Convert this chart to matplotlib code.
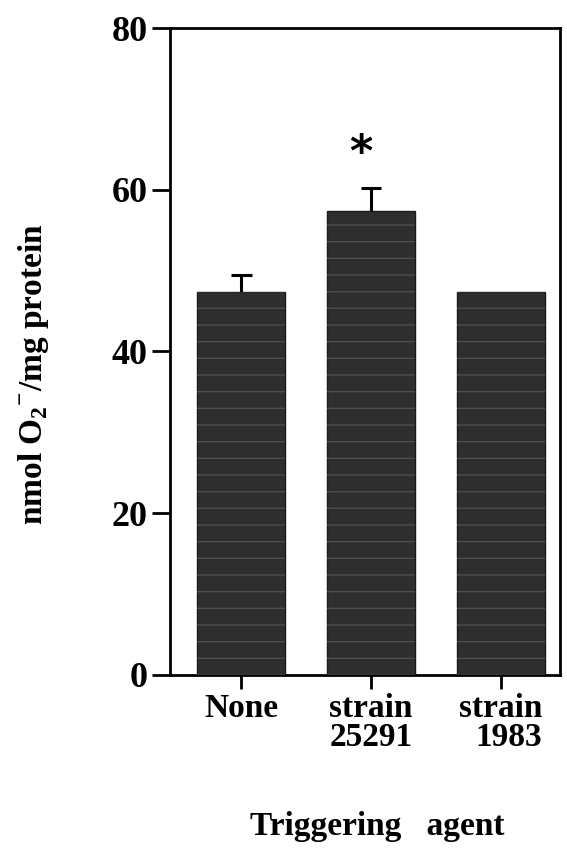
import matplotlib.pyplot as plt
import numpy as np

# superoxide release by triggering agent
agents = ["None", "strain\n25291", "strain\n1983"]
means = [47.3, 57.4, 47.4]
sem_up = [2.1, 2.8, 0.0]
significant = [False, True, False]

plt.rcParams['font.family'] = ['Liberation Serif', 'DejaVu Serif']
plt.rcParams['font.weight'] = 'bold'
plt.rcParams['axes.labelweight'] = 'bold'
plt.rcParams['mathtext.fontset'] = 'custom'
plt.rcParams['mathtext.rm'] = 'Liberation Serif:bold'
plt.rcParams['mathtext.bf'] = 'Liberation Serif:bold'

fig = plt.figure(figsize=(5.67, 8.5), dpi=100)
ax = fig.add_axes([0.300, 0.206, 0.688, 0.761])

x = np.arange(len(agents))
bar_w = 0.68
ax.bar(x, means, width=bar_w, color='#2e2e2e', edgecolor='#1a1a1a', linewidth=1, zorder=2)
# faint horizontal streaks across the fill
ax.bar(x, means, width=bar_w, fill=False, hatch='-', edgecolor='#4e4e4e', linewidth=0, zorder=3)

# upper error bars only (T shape)
cap = 0.08
for xi, m, s in zip(x, means, sem_up):
    if s > 0:
        ax.vlines(xi, m, m + s, color='black', linewidth=2.2, zorder=1)
        ax.hlines(m + s, xi - cap, xi + cap, color='black', linewidth=2.2, zorder=1)

for xi, m, s, sig in zip(x, means, sem_up, significant):
    if sig:
        ax.text(xi - 0.08, m + s + 1.6, "*", ha='center', va='bottom', fontsize=32,
                family='DejaVu Sans', fontweight='bold')

ax.set_xlim(-0.55, 2.46)
ax.set_ylim(0, 80)
ax.set_yticks([0, 20, 40, 60, 80])
ax.set_xticks(x)
ax.set_xticklabels(agents, fontsize=24, linespacing=0.9)
ax.get_xticklabels()[2].set_multialignment('right')
ax.tick_params(axis='y', labelsize=26, length=13, width=2, direction='out', pad=3)
ax.tick_params(axis='x', length=10, width=2, direction='out', pad=3)

for sp in ax.spines.values():
    sp.set_linewidth(2)

ax.set_ylabel("nmol O$_2$$^{-}$/mg protein", fontsize=24)
ax.yaxis.set_label_coords(-0.305, 0.465)
ax.set_xlabel("Triggering   agent", fontsize=24)
ax.xaxis.set_label_coords(0.53, -0.21)

fig.savefig("out.png", dpi=100)
